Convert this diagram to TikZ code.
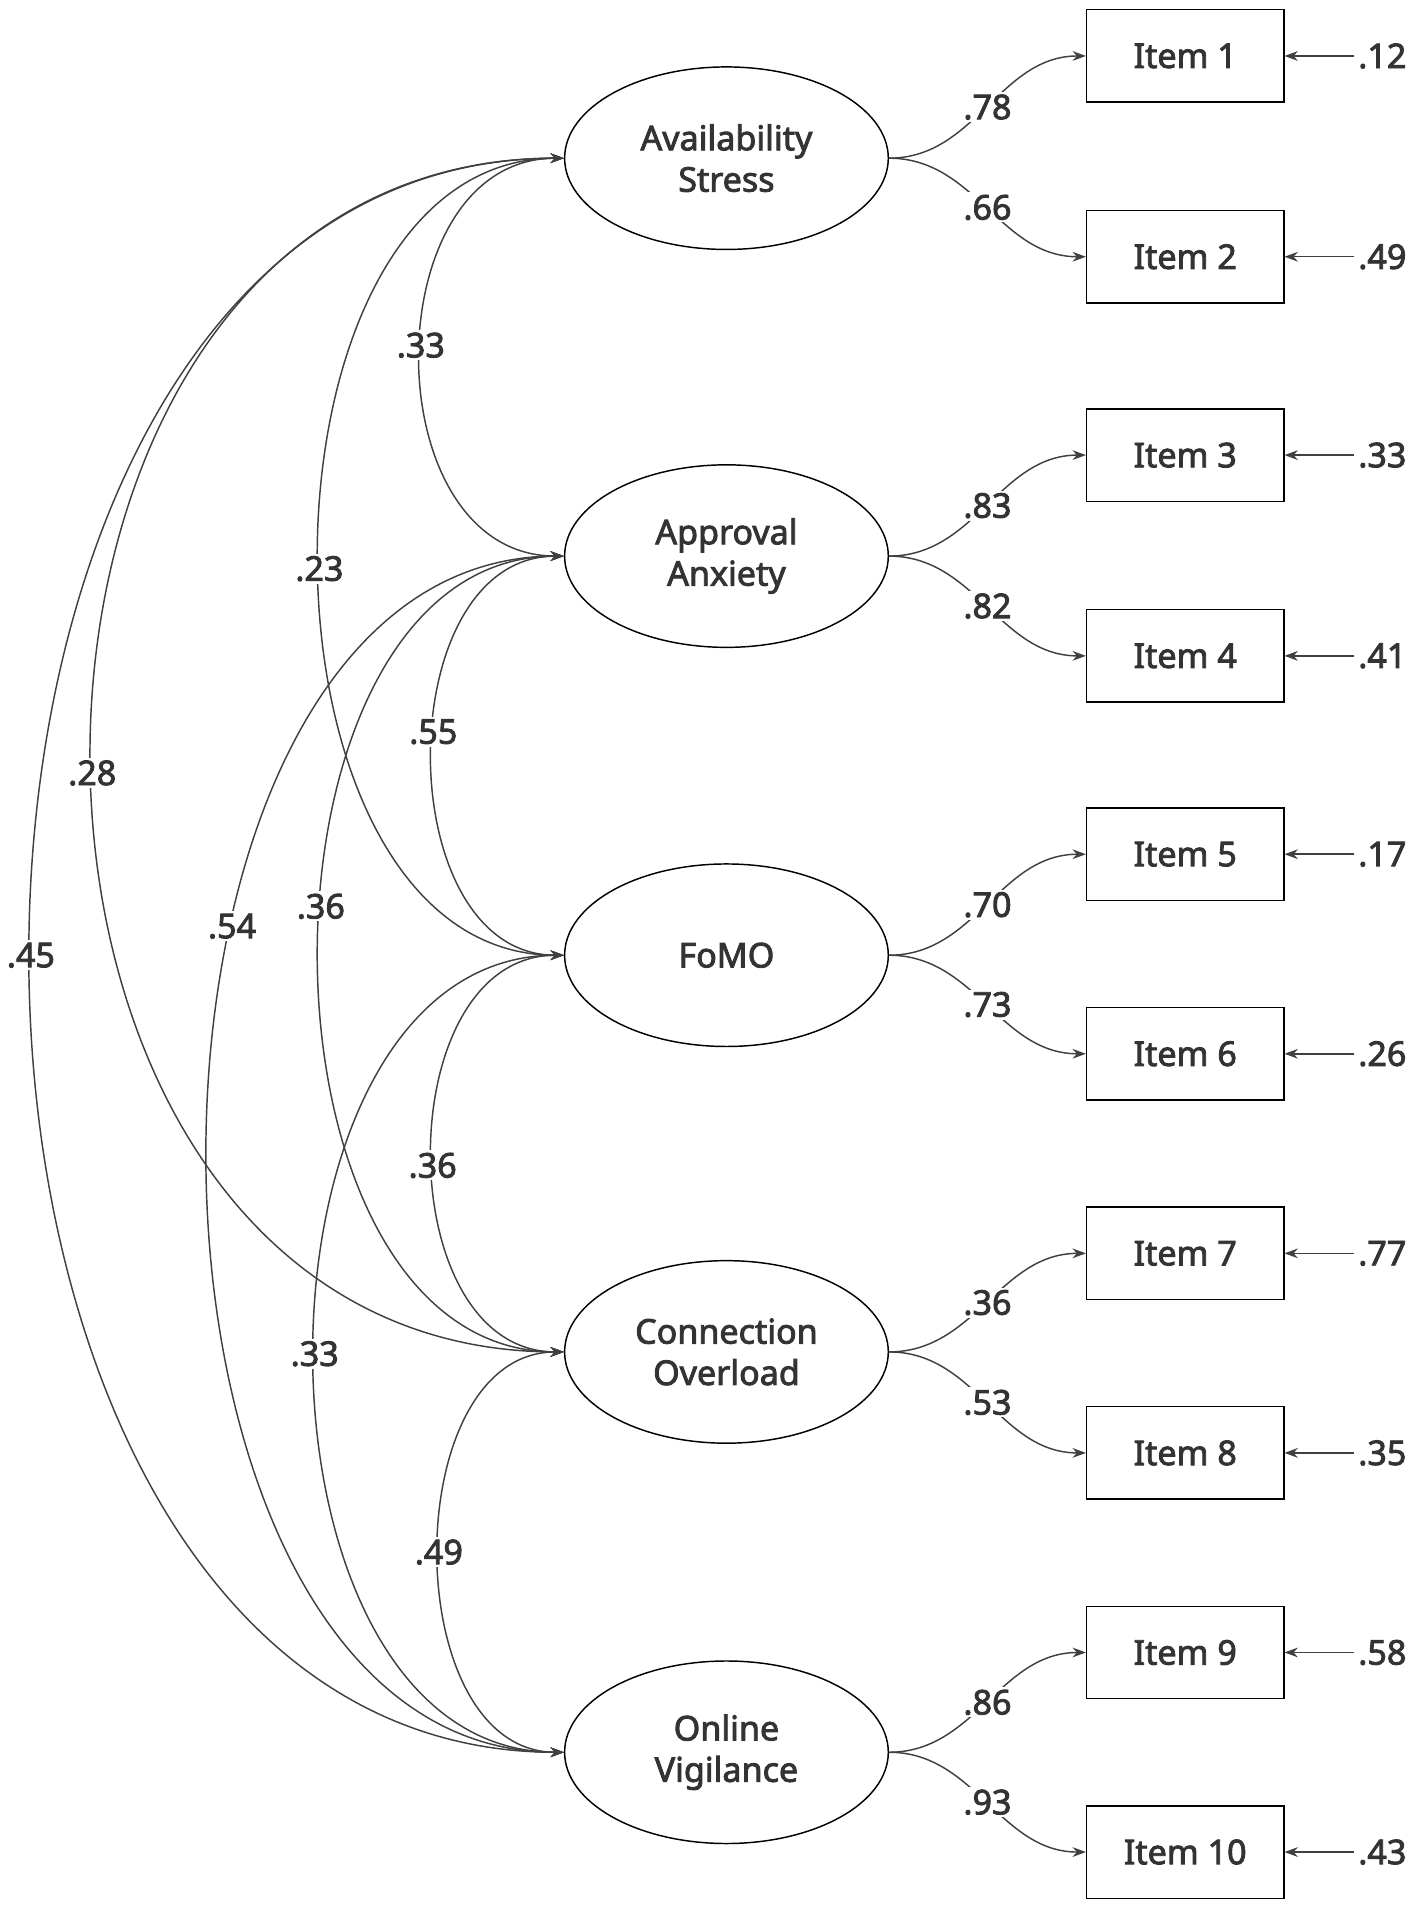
\documentclass[tikz,border=0pt]{standalone}
\usepackage{fontspec}
\setmainfont{Noto Sans}[AutoFakeBold=2.5]
\usetikzlibrary{arrows.meta,shapes.geometric}
\begin{document}
\begin{tikzpicture}[x=1pt,y=-1pt,
  every node/.style={font=\fontsize{28}{34}\selectfont\bfseries, text=black!80},
  lat/.style={draw,ellipse,minimum width=266pt,minimum height=150pt,inner sep=0pt,align=center,line width=1.2pt},
  item/.style={draw,rectangle,minimum width=162pt,minimum height=76pt,line width=1.2pt},
  lab/.style={fill=white,inner sep=2pt},
  con/.style={line width=1.2pt,draw=black!75,-{Stealth[length=11pt,width=8pt]}},
  cor/.style={line width=1.2pt,draw=black!75,{Stealth[length=11pt,width=8pt]}-{Stealth[length=11pt,width=8pt]}}]
\useasboundingbox (0,0) rectangle (1165,1568);
\node[lat] (as) at (597,130) {Availability\\Stress};
\node[lat] (aa) at (597,457) {Approval\\Anxiety};
\node[lat] (fo) at (597,785) {FoMO};
\node[lat] (co) at (597,1111) {Connection\\Overload};
\node[lat] (ov) at (597,1440) {Online\\Vigilance};
\foreach \i/\y/\e in {1/46/.12,2/211/.49,3/374/.33,4/539/.41,5/702/.17,6/866/.26,7/1030/.77,8/1194/.35,9/1358/.58,10/1522/.43}{
  \node[item] (i\i) at (974,\y) {Item \i};
  \node (e\i) at (1136,\y) {\e};
  \draw[con] (e\i) -- (i\i);
}
\foreach \l/\a/\b/\c/\d in {as/1/2/.78/.66,aa/3/4/.83/.82,fo/5/6/.70/.73,co/7/8/.36/.53,ov/9/10/.86/.93}{
  \draw[con] (\l.east) to[out=0,in=180] node[lab]{\c} (i\a.west);
  \draw[con] (\l.east) to[out=0,in=180] node[lab]{\d} (i\b.west);
}
\foreach \p/\q/\dd/\v/\ps in {as/ov/584/.45/0.5,as/co/517/.28/0.51,aa/ov/390/.54/0.37,as/fo/268/.23/0.51,aa/co/268/.36/0.46,fo/ov/273/.33/0.5,as/aa/157/.33/0.48,aa/fo/144/.55/0.46,fo/co/144/.36/0.52,co/ov/137/.49/0.5}{
  \draw[cor] (\p.west) .. controls +(-\dd,0) and +(-\dd,0) .. node[lab,pos=\ps]{\v} (\q.west);
}
\end{tikzpicture}
\end{document}
